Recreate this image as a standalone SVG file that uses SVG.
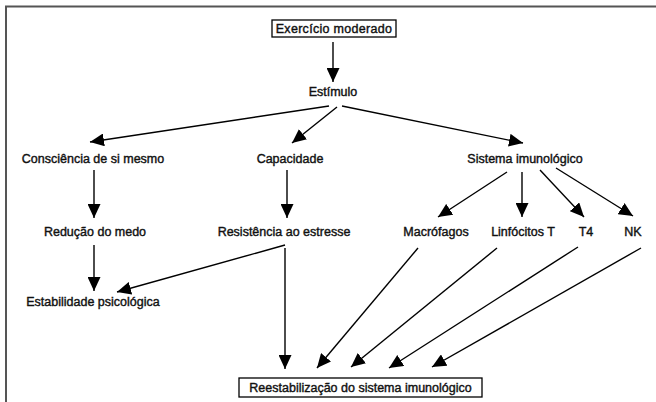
<svg xmlns="http://www.w3.org/2000/svg" width="656" height="402" viewBox="0 0 656 402">
<defs>
<marker id="ah" viewBox="0 0 14 13" refX="14" refY="6.5" markerWidth="14" markerHeight="13" markerUnits="userSpaceOnUse" orient="auto">
<path d="M0,0 L14,6.5 L0,13 Z" fill="#000"/>
</marker>
<style>
text{font-family:"Liberation Sans",Arial,sans-serif;font-size:12.5px;fill:#111;stroke:#111;stroke-width:0.4;text-anchor:middle}
.c line{stroke:#000;stroke-width:1.4;marker-end:url(#ah)}
.box{fill:#fff;stroke:#000;stroke-width:1.3}
</style>
</defs>
<rect width="656" height="402" fill="#fff"/>
<g id="frame"><path d="M6,402 V6.5 H656" fill="none" stroke="#555" stroke-width="2"/></g>
<g id="n-exercicio"><rect class="box" x="272" y="20" width="124" height="17"/><text x="334" y="33" letter-spacing="0.3">Exercício moderado</text></g>
<g id="n-estimulo"><text x="333" y="96">Estímulo</text></g>
<g id="n-consciencia"><text x="93" y="163">Consciência de si mesmo</text></g>
<g id="n-capacidade"><text x="290" y="163">Capacidade</text></g>
<g id="n-sistema"><text x="525" y="163">Sistema imunológico</text></g>
<g id="n-reducao"><text x="95" y="236">Redução do medo</text></g>
<g id="n-resistencia"><text x="284" y="236">Resistência ao estresse</text></g>
<g id="n-macrofagos"><text x="436" y="236">Macrófagos</text></g>
<g id="n-linfocitos"><text x="523" y="236">Linfócitos T</text></g>
<g id="n-t4"><text x="586" y="236">T4</text></g>
<g id="n-nk"><text x="633" y="236">NK</text></g>
<g id="n-estabilidade"><text x="93" y="306">Estabilidade psicológica</text></g>
<g id="n-reestabilizacao"><rect class="box" x="239" y="378" width="243" height="19"/><text x="360.5" y="392">Reestabilização do sistema imunológico</text></g>
<g id="connectors" class="c">
<line x1="333" y1="42" x2="333" y2="82"/>
<line x1="329" y1="106" x2="90" y2="142"/>
<line x1="337" y1="107" x2="292" y2="143"/>
<line x1="342" y1="106" x2="523" y2="143"/>
<line x1="94" y1="170" x2="94" y2="218"/>
<line x1="287" y1="170" x2="287" y2="218"/>
<line x1="507" y1="172" x2="438" y2="217"/>
<line x1="522" y1="172" x2="522" y2="217"/>
<line x1="540" y1="170" x2="584" y2="217"/>
<line x1="556" y1="168" x2="633" y2="216"/>
<line x1="94" y1="245" x2="94" y2="291"/>
<line x1="285" y1="245" x2="117" y2="292"/>
<line x1="285" y1="248" x2="285" y2="369"/>
<line x1="418" y1="248" x2="317" y2="368"/>
<line x1="497" y1="248" x2="351" y2="367"/>
<line x1="578" y1="247" x2="389" y2="368"/>
<line x1="641" y1="248" x2="432" y2="367"/>
</g>
</svg>
